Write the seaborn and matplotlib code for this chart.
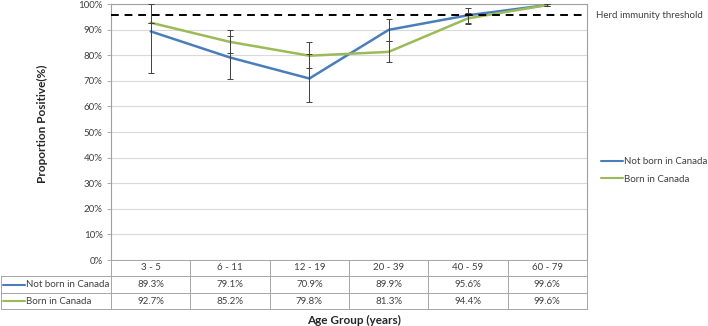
import numpy as np
import pandas as pd
import matplotlib
matplotlib.use('Agg')
import matplotlib.pyplot as plt
from matplotlib.lines import Line2D
import seaborn as sns

# data
age_groups = ["3 - 5", "6 - 11", "12 - 19", "20 - 39", "40 - 59", "60 - 79"]
not_born = [89.3, 79.1, 70.9, 89.9, 95.6, 99.6]
born = [92.7, 85.2, 79.8, 81.3, 94.4, 99.6]
not_born_lo = [16.3, 8.4, 9.3, 4.5, 3.0, 0.4]
not_born_hi = [10.7, 8.4, 9.6, 4.4, 3.0, 0.4]
born_lo = [0.0, 4.5, 4.9, 4.0, 2.2, 0.4]
born_hi = [0.0, 4.5, 5.2, 4.1, 2.2, 0.4]
herd_threshold = 95.7

series_names = ["Not born in Canada", "Born in Canada"]
colors = {"Not born in Canada": "#4A7EBB", "Born in Canada": "#9BBB59"}

df = pd.DataFrame({
    "age": age_groups * 2,
    "pos": list(range(len(age_groups))) * 2,
    "value": not_born + born,
    "lo": not_born_lo + born_lo,
    "hi": not_born_hi + born_hi,
    "group": [series_names[0]] * 6 + [series_names[1]] * 6,
})

sns.set_style("white")
plt.rcParams['font.family'] = ['Lato', 'DejaVu Sans']
FS = 7

W, H = 708, 326
fig = plt.figure(figsize=(W / 100, H / 100), dpi=100)
L, R, T, B = 111, 587, 4, 260
ax = fig.add_axes([L / W, 1 - B / H, (R - L) / W, (B - T) / H])


def fx(px):
    return px / W


def fy(py):
    return 1 - py / H


sns.lineplot(data=df, x="pos", y="value", hue="group", palette=colors,
             hue_order=series_names, linewidth=1.8, legend=False, ax=ax,
             zorder=3)

for name in series_names:
    sub = df[df["group"] == name]
    ax.errorbar(sub["pos"], sub["value"], yerr=[sub["lo"], sub["hi"]],
                fmt='none', ecolor='#404040', elinewidth=0.7, capsize=2.5,
                capthick=0.7, zorder=4, clip_on=False)

ax.axhline(herd_threshold, color='black', linestyle=(0, (4, 3)),
           linewidth=1.4, zorder=5)

ax.set_xlim(-0.5, len(age_groups) - 0.5)
ax.set_ylim(0, 100)
ax.set_yticks(np.arange(0, 101, 10))
ax.set_yticklabels([f"{v}%" for v in range(0, 101, 10)], fontsize=FS,
                   color='#404040')
ax.set_xticks([])
ax.set_xlabel("")
ax.set_ylabel("")
ax.grid(axis='y', color='#D9D9D9', linewidth=0.8)
ax.tick_params(axis='y', length=3, width=0.6, color='#A0A0A0', pad=3,
               left=True)
for side in ["top", "right", "left"]:
    ax.spines[side].set_color('#A0A0A0')
    ax.spines[side].set_linewidth(0.8)
ax.spines["bottom"].set_visible(False)

# data table under the plot
rows = [276, 293, 309]
border = dict(color='#A6A6A6', linewidth=0.7)
col_w = (R - L) / len(age_groups)
fig.add_artist(Line2D([fx(L), fx(R)], [fy(B), fy(B)], **border))
for y in rows:
    fig.add_artist(Line2D([fx(1), fx(R)], [fy(y), fy(y)], **border))
fig.add_artist(Line2D([fx(1), fx(1)], [fy(rows[0]), fy(rows[-1])], **border))
for i in range(len(age_groups) + 1):
    x = L + i * col_w
    fig.add_artist(Line2D([fx(x), fx(x)], [fy(B), fy(rows[-1])], **border))

for i, lab in enumerate(age_groups):
    cx = L + (i + 0.5) * col_w
    fig.text(fx(cx), fy((B + rows[0]) / 2), lab, ha='center', va='center',
             fontsize=FS, color='#404040')
    fig.text(fx(cx), fy((rows[0] + rows[1]) / 2), f"{not_born[i]:.1f}%",
             ha='center', va='center', fontsize=FS, color='#404040')
    fig.text(fx(cx), fy((rows[1] + rows[2]) / 2), f"{born[i]:.1f}%",
             ha='center', va='center', fontsize=FS, color='#404040')

for name, (y0, y1) in zip(series_names, [(rows[0], rows[1]), (rows[1], rows[2])]):
    ym = fy((y0 + y1) / 2)
    fig.add_artist(Line2D([fx(3), fx(25)], [ym, ym], color=colors[name],
                          linewidth=1.5))
    fig.text(fx(26), ym, name, ha='left', va='center', fontsize=FS,
             color='#404040')

fig.text(fx(596), fy(15), "Herd immunity threshold", ha='left',
         va='center', fontsize=FS, color='#404040')

handles = [Line2D([], [], color=colors[n], linewidth=1.5) for n in series_names]
fig.legend(handles, series_names, loc='upper left',
           bbox_to_anchor=(fx(601), fy(157)), frameon=False, fontsize=FS,
           handlelength=2.3, handletextpad=0.1, labelspacing=0.9,
           borderaxespad=0, borderpad=0, labelcolor='#404040')

fig.text(fx(42), fy(124), "Proportion Positive(%)", rotation=90,
         ha='center', va='center', fontsize=8.5, fontweight='bold',
         color='#262626')
fig.text(fx(354), fy(320), "Age Group (years)", ha='center', va='center',
         fontsize=8.5, fontweight='bold', color='#262626')

fig.savefig("out.png", dpi=100)
